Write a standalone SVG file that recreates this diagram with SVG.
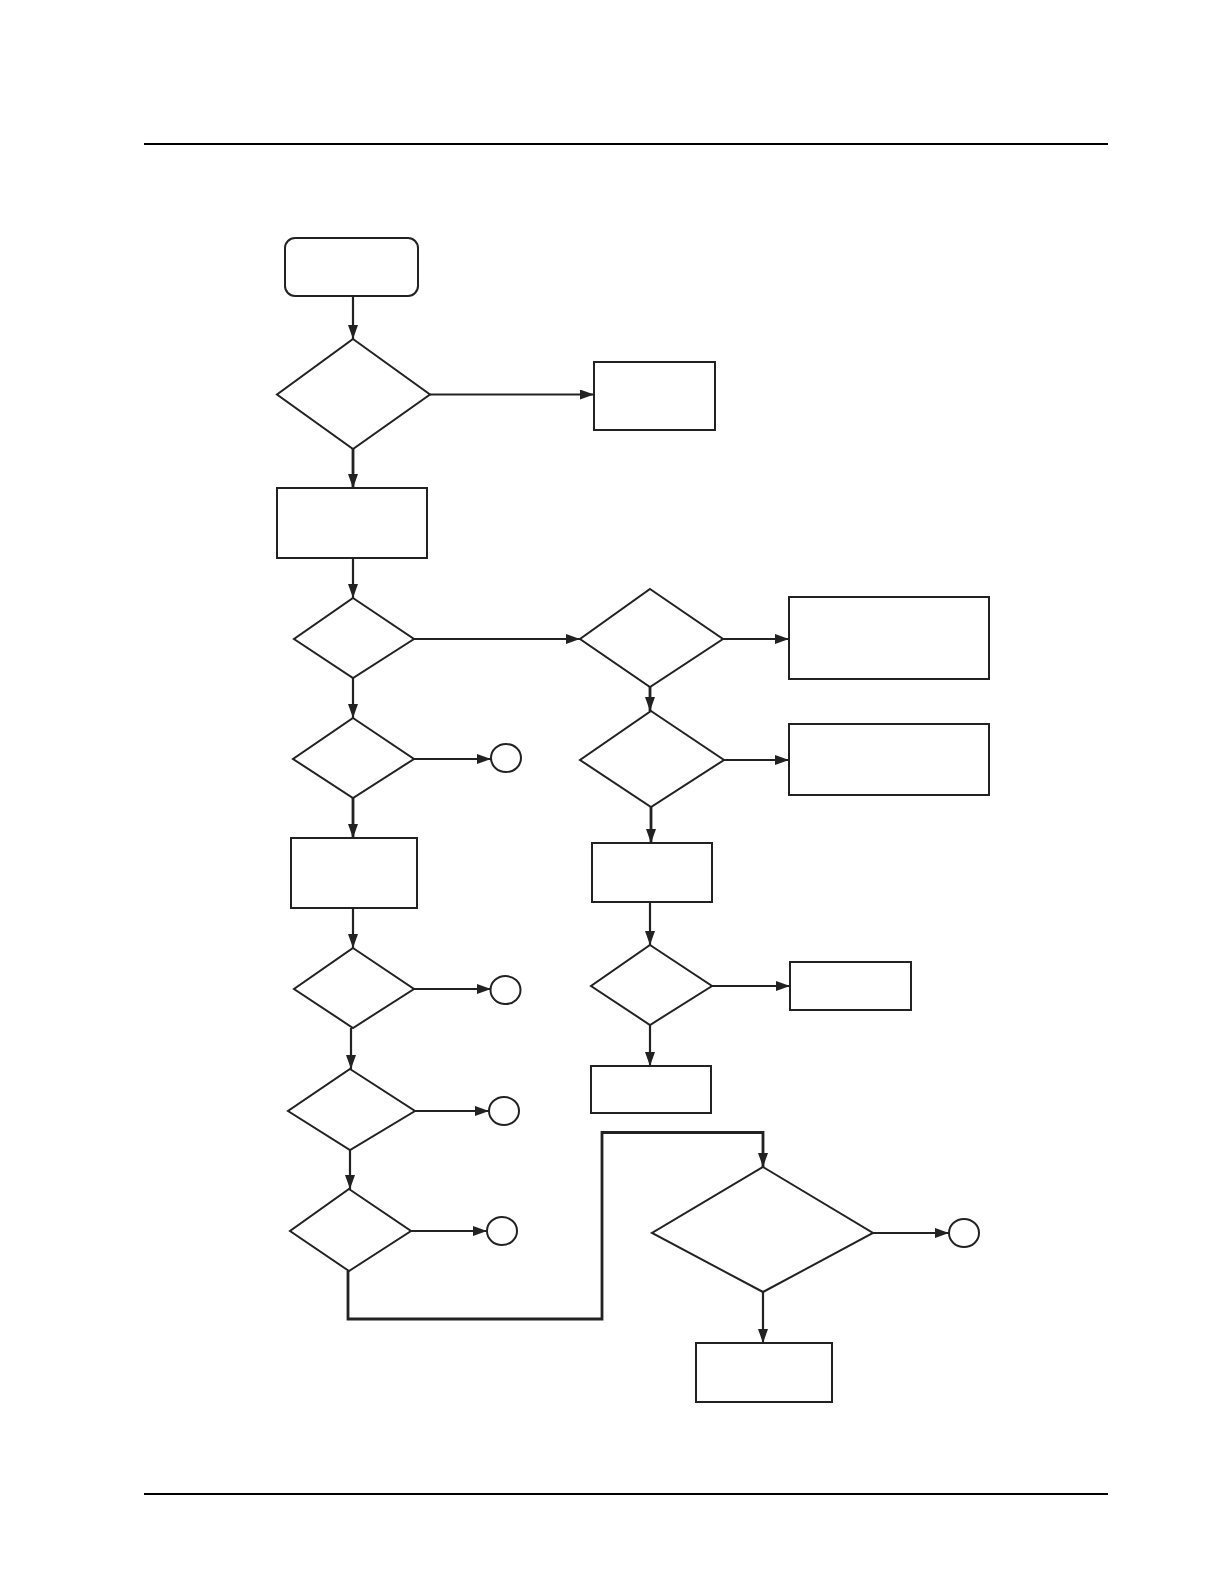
<svg xmlns="http://www.w3.org/2000/svg" width="1224" height="1584" viewBox="0 0 1224 1584">
  <style>
    .n{fill:#fff;stroke:#222;stroke-width:2}
    .c{fill:none;stroke:#222;stroke-width:2.2}
    .t{stroke-width:2.8}
    .rule{stroke:#000;stroke-width:2.2}
  </style>
  <defs>
    <marker id="ah" markerUnits="userSpaceOnUse" markerWidth="15" markerHeight="11" refX="14" refY="5" orient="auto">
      <path d="M0,0 L14,5 L0,10 z" fill="#222"/>
    </marker>
  </defs>
  <rect width="1224" height="1584" fill="#fff"/>
  <line class="rule" x1="144" y1="144" x2="1108" y2="144"/>
  <line class="rule" x1="144" y1="1494" x2="1108" y2="1494"/>

  <g id="connectors">
    <path class="c" d="M353,296 V339" marker-end="url(#ah)"/>
    <path class="c" d="M430,394.5 H594" marker-end="url(#ah)"/>
    <path class="c t" d="M353,449 V488" marker-end="url(#ah)"/>
    <path class="c" d="M353,558 V598" marker-end="url(#ah)"/>
    <path class="c" d="M414,639 H580" marker-end="url(#ah)"/>
    <path class="c" d="M723,639 H789" marker-end="url(#ah)"/>
    <path class="c t" d="M650,687 V711" marker-end="url(#ah)"/>
    <path class="c" d="M724,760 H789" marker-end="url(#ah)"/>
    <path class="c" d="M353,678 V718" marker-end="url(#ah)"/>
    <path class="c" d="M414,759 H491" marker-end="url(#ah)"/>
    <path class="c t" d="M353,798 V838" marker-end="url(#ah)"/>
    <path class="c t" d="M651,807 V843" marker-end="url(#ah)"/>
    <path class="c" d="M353,908 V948" marker-end="url(#ah)"/>
    <path class="c" d="M650,902 V945" marker-end="url(#ah)"/>
    <path class="c" d="M414,989 H491" marker-end="url(#ah)"/>
    <path class="c" d="M712,986 H790" marker-end="url(#ah)"/>
    <path class="c" d="M650,1025 V1066" marker-end="url(#ah)"/>
    <path class="c" d="M351,1028 V1069" marker-end="url(#ah)"/>
    <path class="c" d="M415,1111 H489" marker-end="url(#ah)"/>
    <path class="c" d="M350,1150 V1189" marker-end="url(#ah)"/>
    <path class="c" d="M411,1231 H487" marker-end="url(#ah)"/>
    <path class="c t" d="M348,1271 V1319 H602 V1132.5 H763 V1167" marker-end="url(#ah)"/>
    <path class="c" d="M873,1233 H949" marker-end="url(#ah)"/>
    <path class="c" d="M763,1292 V1343" marker-end="url(#ah)"/>
  </g>

  <g id="start"><rect class="n" x="285" y="238" width="133" height="58" rx="10"/></g>
  <g id="d1"><polygon class="n" points="353,339 430,394.5 353,449 277,394.5"/></g>
  <g id="bR1"><rect class="n" x="594" y="362" width="121" height="68"/></g>
  <g id="b2"><rect class="n" x="277" y="488" width="150" height="70"/></g>
  <g id="d3"><polygon class="n" points="353,598 414,639 353,678 294,639"/></g>
  <g id="dR1"><polygon class="n" points="650,589 723,639 650,687 580,639"/></g>
  <g id="bR2"><rect class="n" x="789" y="597" width="200" height="82"/></g>
  <g id="d4"><polygon class="n" points="353,718 414,759 353,798 293,759"/></g>
  <g id="c1"><ellipse class="n" cx="506" cy="758" rx="15" ry="14"/></g>
  <g id="dR2"><polygon class="n" points="651,711 724,760 651,807 580,760"/></g>
  <g id="bR3"><rect class="n" x="789" y="724" width="200" height="71"/></g>
  <g id="b3"><rect class="n" x="291" y="838" width="126" height="70"/></g>
  <g id="bR4"><rect class="n" x="592" y="843" width="120" height="59"/></g>
  <g id="d5"><polygon class="n" points="353,948 414,989 353,1028 294,989"/></g>
  <g id="c2"><ellipse class="n" cx="505.5" cy="990" rx="15" ry="14"/></g>
  <g id="dR3"><polygon class="n" points="650,945 712,986 650,1025 591,986"/></g>
  <g id="bR5"><rect class="n" x="790" y="962" width="121" height="48"/></g>
  <g id="bR6"><rect class="n" x="591" y="1066" width="120" height="47"/></g>
  <g id="d6"><polygon class="n" points="350,1069 415,1111 350,1150 288,1111"/></g>
  <g id="c3"><ellipse class="n" cx="504" cy="1111" rx="15" ry="14"/></g>
  <g id="d7"><polygon class="n" points="349,1189 411,1231 349,1271 290,1231"/></g>
  <g id="c4"><ellipse class="n" cx="502" cy="1231" rx="15" ry="14"/></g>
  <g id="d8"><polygon class="n" points="763,1167 873,1233 763,1292 652,1233"/></g>
  <g id="c5"><ellipse class="n" cx="964" cy="1233" rx="15" ry="14"/></g>
  <g id="bFinal"><rect class="n" x="696" y="1343" width="136" height="59"/></g>
</svg>
